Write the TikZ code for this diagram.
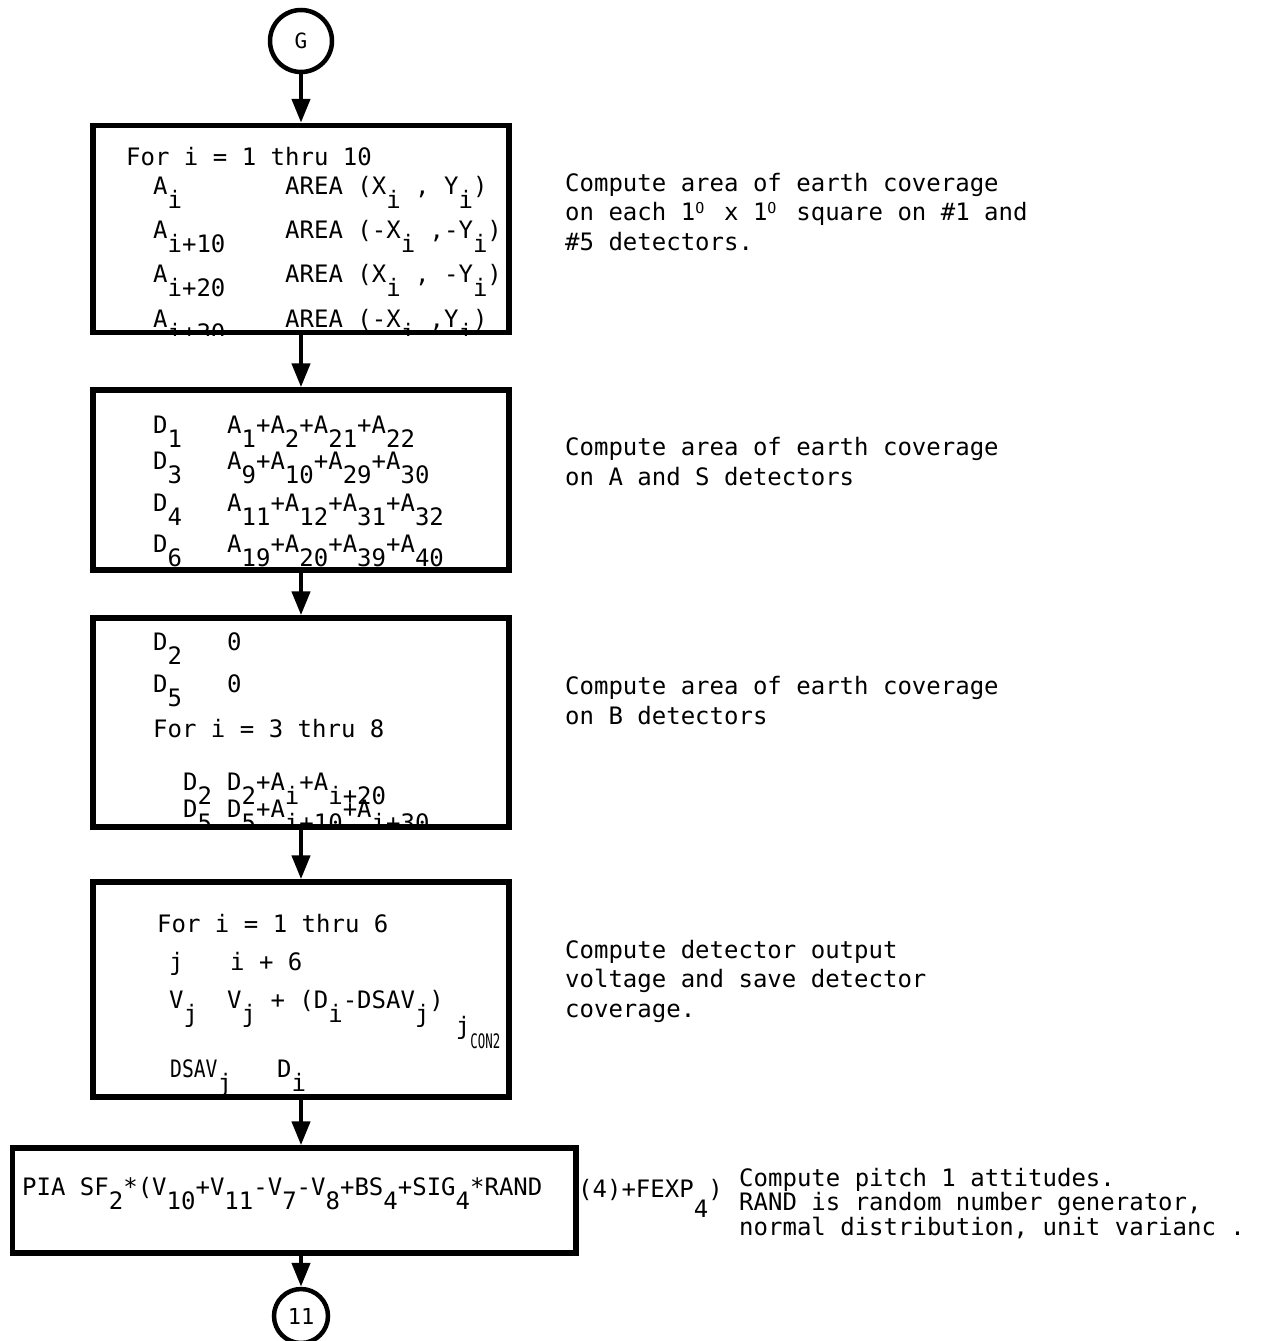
\documentclass[tikz,border=0pt]{standalone}
\usepackage{fontspec}
\usepackage{tikz}
\usetikzlibrary{arrows.meta}
\newfontfamily\prt{DejaVu Sans Mono}
\newfontfamily\prtc[FakeStretch=0.82]{DejaVu Sans Mono}
\newfontfamily\prtcc[FakeStretch=0.62]{DejaVu Sans Mono}
\newcommand{\sbs}[1]{\raisebox{-14pt}{#1}}
\newcommand{\dg}{\makebox[14.45pt][l]{\raisebox{7pt}{\fontsize{15}{15}\selectfont O}}}

\begin{document}
\begin{tikzpicture}[x=1pt,y=-1pt]
\tikzset{
  blk/.style={draw, line width=5.5pt, inner sep=0pt},
  conn/.style={draw, circle, line width=4.5pt, inner sep=0pt},
  txt/.style={anchor=base west, inner sep=0pt, font=\prt\fontsize{24}{29.5}\selectfont},
  note/.style={txt, align=left},
  flow/.style={-{Triangle[length=24pt,width=18pt]}, line width=4.5pt}
}
\path[use as bounding box, fill=white] (0,0) rectangle (1262,1341);

\node[conn, minimum size=62pt, font=\prt\fontsize{21}{21}\selectfont] (g) at (301,41) {G};
\node[blk, minimum width=416pt, minimum height=207pt] (b1) at (301,229) {};
\node[blk, minimum width=416pt, minimum height=180pt] (b2) at (301,480) {};
\node[blk, minimum width=416pt, minimum height=209pt] (b3) at (301,722.5) {};
\node[blk, minimum width=416pt, minimum height=215pt] (b4) at (301,989.5) {};
\node[blk, minimum width=563.5pt, minimum height=105pt] (b5) at (294.25,1200.5) {};
\node[conn, minimum size=54pt, font=\prt\fontsize{22}{22}\selectfont] (e11) at (301,1316) {11};

\draw[flow] (g) -- (b1);
\draw[flow] (b1) -- (b2);
\draw[flow] (b2) -- (b3);
\draw[flow] (b3) -- (b4);
\draw[flow] (b4.south) -- (b4.south |- b5.north);
\draw[flow] (b4.south |- b5.south) -- (e11);

\begin{scope}
  \clip (b1.north west) rectangle (b1.south east);
  \node[txt] (f1) at (126,165) {For i = 1 thru 10};
  \node[txt] (a1) at (153,194) {\makebox[132pt][l]{A\sbs{i}}AREA (X\sbs{i} , Y\sbs{i})};
  \node[txt] (a2) at (153,238) {\makebox[132pt][l]{A\sbs{i+10}}AREA (-X\sbs{i} ,-Y\sbs{i})};
  \node[txt] (a3) at (153,282) {\makebox[132pt][l]{A\sbs{i+20}}AREA (X\sbs{i} , -Y\sbs{i})};
  \node[txt] (a4) at (153,327) {\makebox[132pt][l]{A\sbs{i+30}}AREA (-X\sbs{i} ,Y\sbs{i})};
\end{scope}

\begin{scope}
  \clip (b2.north west) rectangle (b2.south east);
  \node[txt] (d1) at (153,433) {\makebox[74pt][l]{D\sbs{1}}A\sbs{1}+A\sbs{2}+A\sbs{21}+A\sbs{22}};
  \node[txt] (d3) at (153,469) {\makebox[74pt][l]{D\sbs{3}}A\sbs{9}+A\sbs{10}+A\sbs{29}+A\sbs{30}};
  \node[txt] (d4) at (153,511) {\makebox[74pt][l]{D\sbs{4}}A\sbs{11}+A\sbs{12}+A\sbs{31}+A\sbs{32}};
  \node[txt] (d6) at (153,552) {\makebox[74pt][l]{D\sbs{6}}A\sbs{19}+A\sbs{20}+A\sbs{39}+A\sbs{40}};
\end{scope}

\begin{scope}
  \clip (b3.north west) rectangle (b3.south east);
  \node[txt] (z2) at (153,650) {\makebox[74pt][l]{D\sbs{2}}0};
  \node[txt] (z5) at (153,692) {\makebox[74pt][l]{D\sbs{5}}0};
  \node[txt] (f3) at (153,737) {For i = 3 thru 8};
  \node[txt] (s2) at (183,790) {\makebox[44pt][l]{D\sbs{2}}D\sbs{2}+A\sbs{i}+A\sbs{i+20}};
  \node[txt] (s5) at (183,817) {\makebox[44pt][l]{D\sbs{5}}D\sbs{5}+A\sbs{i+10}+A\sbs{i+30}};
\end{scope}

\begin{scope}
  \clip (b4.north west) rectangle (b4.south east);
  \node[txt] (f4) at (157,932) {For i = 1 thru 6};
  \node[txt] (jj) at (169,970) {\makebox[61pt][l]{j}i + 6};
  \node[txt] (vj) at (169,1008) {\makebox[58pt][l]{V\sbs{j}}V\sbs{j} + (D\sbs{i}-DSAV\sbs{j})\hspace{12pt}\raisebox{-26pt}{j}\raisebox{-40pt}{\prtcc\fontsize{20}{20}\selectfont CON2}};
  \node[txt] (sv) at (170,1077) {\makebox[107pt][l]{{\prtc DSAV}\sbs{j}}D\sbs{i}};
\end{scope}

\node[txt] (pia) at (22,1195) {PIA SF\sbs{2}*(V\sbs{10}+V\sbs{11}-V\sbs{7}-V\sbs{8}+BS\sbs{4}+SIG\sbs{4}*RAND};
\node[txt] (fexp) at (578,1197) {(4)+FEXP\raisebox{-20pt}{4})};

\node[note] (n1) at (565,250) {Compute area of earth coverage\\on each 1\dg{} x 1\dg{} square on \#1 and\\\#5 detectors.};
\node[note] (n2) at (565,485) {Compute area of earth coverage\\on A and S detectors};
\node[note] (n3) at (565,724) {Compute area of earth coverage\\on B detectors};
\node[note] (n4) at (565,1017) {Compute detector output\\voltage and save detector\\coverage.};
\node[note, font=\prt\fontsize{24}{24.5}\selectfont] (n5) at (739,1235) {Compute pitch 1 attitudes.\\RAND is random number generator,\\normal distribution, unit varianc .};
\end{tikzpicture}
\end{document}
